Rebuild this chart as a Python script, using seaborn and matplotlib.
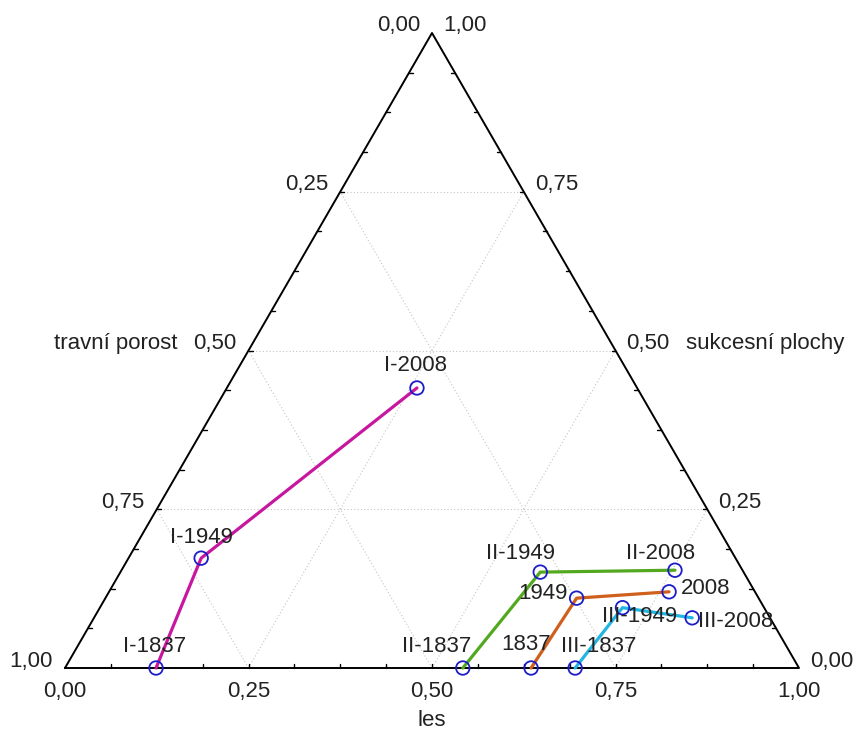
import matplotlib
matplotlib.use('Agg')
import matplotlib.pyplot as plt
import numpy as np
import pandas as pd
import seaborn as sns

# ternary data: les (forest), sukcesni plochy (succession), travni porost = rest
labels = ["I-1837", "I-1949", "I-2008",
          "II-1837", "II-1949", "II-2008",
          "1837", "1949", "2008",
          "III-1837", "III-1949", "III-2008"]
group = ["I", "I", "I", "II", "II", "II", "IV", "IV", "IV", "III", "III", "III"]
les = [0.124, 0.099, 0.259, 0.542, 0.572, 0.754, 0.635, 0.642, 0.763, 0.695, 0.712, 0.815]
sukc = [0.000, 0.173, 0.441, 0.000, 0.151, 0.154, 0.000, 0.110, 0.120, 0.000, 0.095, 0.079]

tick_vals = [0.0, 0.25, 0.5, 0.75, 1.0]
tick_text = ["0,00", "0,25", "0,50", "0,75", "1,00"]

palette = {"I": "#c8179f", "II": "#52a81f", "IV": "#cf5f1c", "III": "#22b6e2"}
# label offsets in pixels (dx, dy)
label_off = [(-1, 22), (0, 21), (-1, 22),
             (-26, 22), (-20, 19), (-14, 17),
             (-5, 24), (-34, 5), (37, 3),
             (24, 21), (17, -9), (43, -4)]

H = np.sqrt(3) / 2


def cart(l, s):
    l = np.asarray(l, dtype=float)
    s = np.asarray(s, dtype=float)
    return l + s / 2, s * H


sns.set_style("white")
plt.rcParams['font.family'] = ['Liberation Sans', 'DejaVu Sans']
txt_col = "#222222"

x, y = cart(les, sukc)
df = pd.DataFrame({"x": x, "y": y, "group": group, "label": labels})

fig = plt.figure(figsize=(8.55, 7.36), dpi=100)
ax = fig.add_axes([65 / 855, 68 / 736, 734 / 855, 635 / 736])
ax.set_xlim(0, 1)
ax.set_ylim(0, H)
ax.axis('off')

# grid lines
for v in [0.25, 0.5, 0.75]:
    for (l0, s0), (l1, s1) in [((0, v), (1 - v, v)),
                               ((v, 0), (v, 1 - v)),
                               ((1 - v, 0), (0, 1 - v))]:
        gx, gy = cart([l0, l1], [s0, s1])
        ax.plot(gx, gy, color="#c4c4c4", lw=0.8, ls=(0, (1, 2)), zorder=1)

# triangle
tx, ty = cart([0, 1, 0, 0], [0, 0, 1, 0])
ax.plot(tx, ty, color="black", lw=1.4, zorder=2, clip_on=False)

# minor ticks (inward)
px = 1 / 734
for t in np.arange(1, 16) / 16:
    bx, by = cart(t, 0)
    ax.plot([bx, bx], [0, 4 * px], color="black", lw=1, clip_on=False)
    lx, ly = cart(0, t)
    ax.plot([lx, lx + 4 * px], [ly, ly], color="black", lw=1, clip_on=False)
    rx, ry = cart(1 - t, t)
    ax.plot([rx, rx - 4 * px], [ry, ry], color="black", lw=1, clip_on=False)

# tick labels
for v, s in zip(tick_vals, tick_text):
    bx, by = cart(v, 0)
    ax.annotate(s, (bx, by), xytext=(0, -24), textcoords='offset pixels',
                ha='center', va='center', fontsize=16, color=txt_col, annotation_clip=False)
    lx, ly = cart(0, 1 - v)
    ax.annotate(s, (lx, ly), xytext=(-12, 7), textcoords='offset pixels',
                ha='right', va='center', fontsize=16, color=txt_col, annotation_clip=False)
    rx, ry = cart(1 - v, v)
    ax.annotate(s, (rx, ry), xytext=(11, 7), textcoords='offset pixels',
                ha='left', va='center', fontsize=16, color=txt_col, annotation_clip=False)

# axis titles
mx, my = cart(0, 0.5)
ax.annotate("travní porost", (mx, my), xytext=(-71, 7), textcoords='offset pixels',
            ha='right', va='center', fontsize=16, color=txt_col, annotation_clip=False)
mx, my = cart(0.5, 0.5)
ax.annotate("sukcesní plochy", (mx, my), xytext=(70, 7), textcoords='offset pixels',
            ha='left', va='center', fontsize=16, color=txt_col, annotation_clip=False)
ax.annotate("les", (0.5, 0), xytext=(0, -52), textcoords='offset pixels',
            ha='center', va='center', fontsize=16, color=txt_col, annotation_clip=False)

# data
sns.lineplot(data=df, x="x", y="y", hue="group", palette=palette, sort=False,
             estimator=None, lw=2.3, legend=False, ax=ax, zorder=3, clip_on=False)
sns.scatterplot(data=df, x="x", y="y", s=95, facecolors="none", edgecolor="#1c1cc8",
                linewidth=1.3, legend=False, ax=ax, zorder=4, clip_on=False)

for i, row in df.iterrows():
    dx, dy = label_off[i]
    ax.annotate(row["label"], (row["x"], row["y"]), xytext=(dx, dy),
                textcoords='offset pixels', ha='center', va='center',
                fontsize=16, color=txt_col, zorder=5, annotation_clip=False)

ax.set_xlabel("")
ax.set_ylabel("")
fig.savefig("out.png", dpi=100)
